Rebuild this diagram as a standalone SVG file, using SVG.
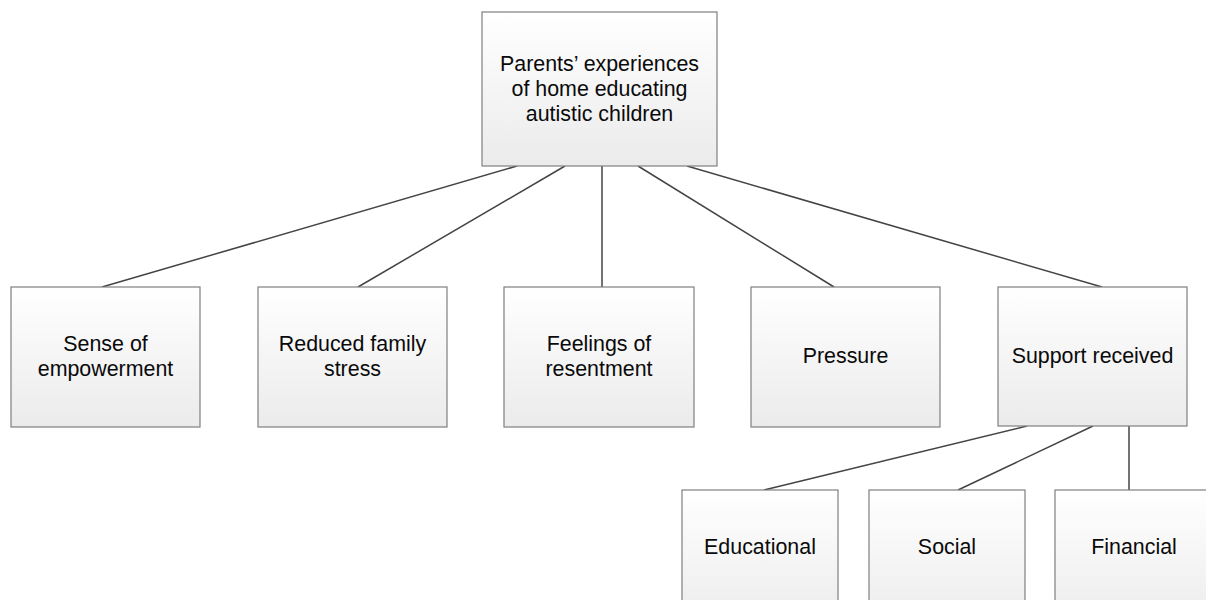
<svg xmlns="http://www.w3.org/2000/svg" width="1206" height="600" viewBox="0 0 1206 600">
<defs>
<linearGradient id="g" x1="0" y1="0" x2="0" y2="1">
<stop offset="0" stop-color="#ffffff"/>
<stop offset="1" stop-color="#ebebeb"/>
</linearGradient>
<style>
.box{fill:url(#g);stroke:#7f7f7f;stroke-width:1.2}
.t{font-family:"Liberation Sans",Arial,sans-serif;font-size:21.4px;fill:#0a0a0a;text-anchor:middle}
.c{stroke:#444444;stroke-width:1.5;fill:none}
</style>
</defs>
<rect width="1206" height="600" fill="#ffffff"/>
<g id="connectors">
<line class="c" x1="517" y1="166" x2="102" y2="287"/>
<line class="c" x1="565" y1="166" x2="358" y2="287"/>
<line class="c" x1="602" y1="166" x2="602" y2="287"/>
<line class="c" x1="638" y1="166" x2="834" y2="287"/>
<line class="c" x1="687" y1="166" x2="1102" y2="287"/>
<line class="c" x1="1027" y1="426" x2="764" y2="490"/>
<line class="c" x1="1093" y1="426" x2="958" y2="490"/>
<line class="c" x1="1129" y1="426" x2="1129" y2="490"/>
</g>
<g id="root">
<rect class="box" x="482" y="12" width="235" height="154"/>
<text class="t" x="599.5" y="71">Parents’ experiences</text>
<text class="t" x="599.5" y="96">of home educating</text>
<text class="t" x="599.5" y="121">autistic children</text>
</g>
<g id="empowerment">
<rect class="box" x="11" y="287" width="189" height="140"/>
<text class="t" x="105.5" y="351">Sense of</text>
<text class="t" x="105.5" y="376">empowerment</text>
</g>
<g id="stress">
<rect class="box" x="258" y="287" width="189" height="140"/>
<text class="t" x="352.5" y="351">Reduced family</text>
<text class="t" x="352.5" y="376">stress</text>
</g>
<g id="resentment">
<rect class="box" x="504" y="287" width="190" height="140"/>
<text class="t" x="599" y="351">Feelings of</text>
<text class="t" x="599" y="376">resentment</text>
</g>
<g id="pressure">
<rect class="box" x="751" y="287" width="189" height="140"/>
<text class="t" x="845.5" y="363">Pressure</text>
</g>
<g id="support">
<rect class="box" x="998" y="287" width="189" height="139"/>
<text class="t" x="1092.5" y="363">Support received</text>
</g>
<g id="educational">
<rect class="box" x="682" y="490" width="156" height="140"/>
<text class="t" x="760" y="554">Educational</text>
</g>
<g id="social">
<rect class="box" x="869" y="490" width="156" height="140"/>
<text class="t" x="947" y="554">Social</text>
</g>
<g id="financial">
<rect class="box" x="1055" y="490" width="158" height="140"/>
<text class="t" x="1134" y="554">Financial</text>
</g>
</svg>
